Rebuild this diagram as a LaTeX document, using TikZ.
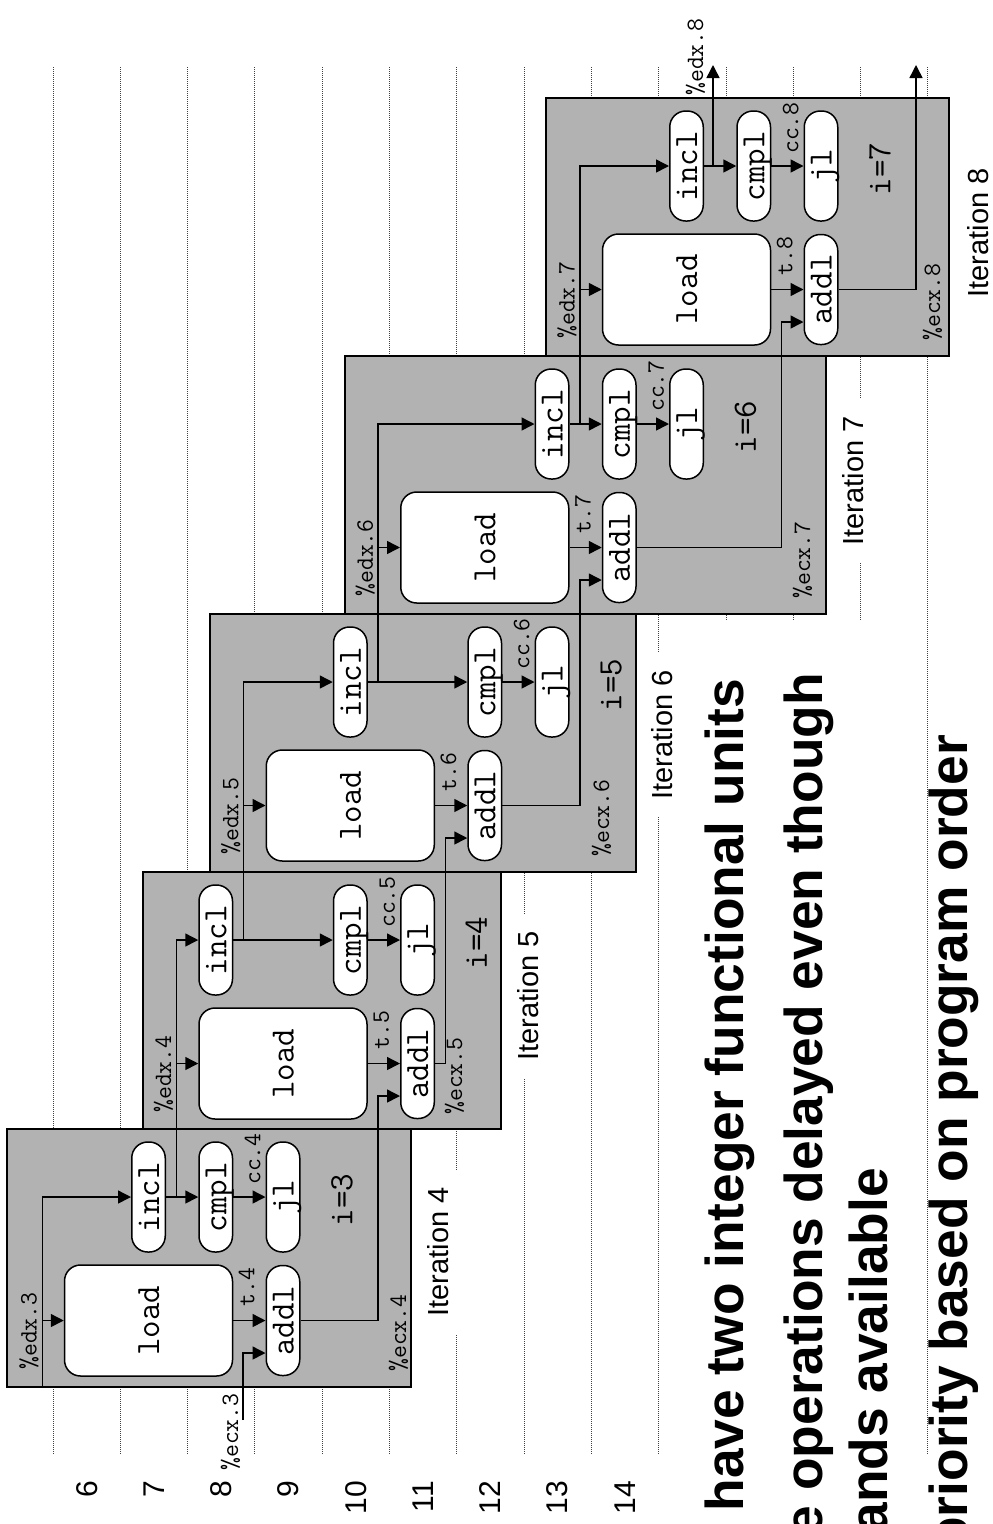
\documentclass[tikz,border=0pt]{standalone}
\usepackage{fontspec}
\setmainfont{Liberation Sans}
\usetikzlibrary{arrows.meta,calc}

\newcommand\opfont{\ttfamily\fontsize{34}{40}\selectfont}
\newcommand\regfont{\ttfamily\fontsize{25}{30}\selectfont}
\newcommand\cyclefont{\fontsize{30}{36}\selectfont}
\newcommand\iterfont{\fontsize{29}{35}\selectfont}
\newcommand\bulletfont{\bfseries\fontsize{53.3}{64}\selectfont}

\tikzset{
  gridline/.style={line width=1pt, black!75, dash pattern=on 1pt off 1pt},
  iterbox/.style={draw=black, line width=1.5pt, fill=black!30},
  opnode/.style={draw=black, line width=1.5pt, fill=white, rotate=90, inner sep=0pt,
                 font=\opfont, text height=21pt, text depth=0pt},
  pill/.style={opnode, minimum width=110pt, minimum height=33.5pt, rounded corners=16pt},
  loadbox/.style={opnode, minimum width=111pt, minimum height=168pt, rounded corners=16pt},
  flow/.style={line width=1.5pt, -{Triangle[length=13pt,width=13pt]}},
  reg/.style={rotate=90, inner sep=0pt, anchor=base, font=\regfont},
  ival/.style={rotate=90, inner sep=0pt, anchor=base, font=\opfont},
  iterlabel/.style={rotate=90, anchor=base, font=\iterfont, fill=white,
                    inner xsep=18pt, inner ysep=12pt},
  cyc/.style={rotate=90, inner sep=0pt, anchor=base east, font=\cyclefont},
  bullettext/.style={rotate=90, inner sep=0pt, anchor=base east, font=\bulletfont},
}

\begin{document}
\begin{tikzpicture}[x=1pt, y=-1pt]
\useasboundingbox (0,0) rectangle (993,1524);
\clip (0,0) rectangle (993,1524);

% clock-cycle grid
\foreach \k in {0,...,13}
  \draw[gridline] ({53+67.3*\k},67) -- ({53+67.3*\k},1455);

% backdrop of the bullet text
\fill[white] (680,620) rectangle (905,1524);

% iteration boxes
\draw[iterbox] (7,1129) rectangle (411,1387);
\draw[iterbox] (143,872) rectangle (501,1129);
\draw[iterbox] (210,614) rectangle (636,872);
\draw[iterbox] (345,356) rectangle (826,614);
\draw[iterbox] (546,98) rectangle (949,356);

% iteration captions
\node[iterlabel] (it4) at (448,1252) {Iteration 4};
\node[iterlabel] (it5) at (538,996) {Iteration 5};
\node[iterlabel] (it6) at (672,735) {Iteration 6};
\node[iterlabel] (it7) at (863,481) {Iteration 7};
\node[iterlabel] (it8) at (988,233) {Iteration 8};

% ---- operations, i=3
\node[loadbox] (load3) at (148.5,1320.5) {load};
\node[pill] (incl3) at (148.5,1197) {incl};
\node[pill] (cmpl3) at (215.75,1197) {cmpl};
\node[pill] (jl3)   at (283,1197) {jl};
\node[pill] (addl3) at (283,1320.5) {addl};
\node[ival] (i3) at (352.25,1200) {i=3};

% ---- operations, i=4
\node[loadbox] (load4) at (283,1063.5) {load};
\node[pill] (incl4) at (215.75,940) {incl};
\node[pill] (cmpl4) at (350.25,940) {cmpl};
\node[pill] (jl4)   at (417.5,940) {jl};
\node[pill] (addl4) at (417.5,1063.5) {addl};
\node[ival] (i4) at (486.75,943) {i=4};

% ---- operations, i=5
\node[loadbox] (load5) at (350.25,805.5) {load};
\node[pill] (incl5) at (350.25,682) {incl};
\node[pill] (cmpl5) at (484.75,682) {cmpl};
\node[pill] (jl5)   at (552,682) {jl};
\node[pill] (addl5) at (484.75,805.5) {addl};
\node[ival] (i5) at (621.25,685) {i=5};

% ---- operations, i=6
\node[loadbox] (load6) at (484.75,547.5) {load};
\node[pill] (incl6) at (552,424) {incl};
\node[pill] (cmpl6) at (619.25,424) {cmpl};
\node[pill] (jl6)   at (686.5,424) {jl};
\node[pill] (addl6) at (619.25,547.5) {addl};
\node[ival] (i6) at (755.75,427) {i=6};

% ---- operations, i=7
\node[loadbox] (load7) at (686.5,289.5) {load};
\node[pill] (incl7) at (686.5,166) {incl};
\node[pill] (cmpl7) at (753.75,166) {cmpl};
\node[pill] (jl7)   at (821,166) {jl};
\node[pill] (addl7) at (821,289.5) {addl};
\node[ival] (i7) at (890.25,169) {i=7};

% data flow inside each iteration
\foreach \k in {3,...,7} {
  \draw[flow] (incl\k.south) -- (cmpl\k.north);
  \draw[flow] (cmpl\k.south) -- (jl\k.north);
  \draw[flow] (load\k.south) -- (addl\k.north);
}

% %edx chain
\coordinate (edx3) at (42.5,1387);
\draw[flow] (edx3) |- (incl3.north);
\draw[flow] (edx3 |- load3.north) -- (load3.north);
\foreach \k/\p in {4/3,5/4,6/5,7/6} {
  \coordinate (edx\k) at ($(incl\p.south -| load\k.north)+(-22,0)$);
  \draw[flow] (edx\k) |- (incl\k.north);
  \draw[flow] (edx\k |- load\k.north) -- (load\k.north);
}
\coordinate (edx8) at (713,65);
\draw[flow] (incl7.south -| edx8) -- (edx8);

% %ecx chain
\coordinate (ecx3) at (243,1420);
\coordinate (in3) at ($(addl3.north)+(0,32.5)$);
\draw[flow] (ecx3) |- (in3);
\foreach \k/\p in {4/3,5/4,6/5,7/6} {
  \coordinate (in\k) at ($(addl\k.north)+(0,32.5)$);
  \draw[flow] (addl\p.south) -| ($(in\k)+(-22,0)$) -- (in\k);
}
\coordinate (ecx8) at (916,65);
\draw[flow] (addl7.south) -| (ecx8);

% register and value labels
\node[reg] (recx3) at (238,1432) {\%ecx.3};
\node[reg] (redx8) at (703,57) {\%edx.8};

\node[reg] (redx3) at (36.5,1331) {\%edx.3};
\node[reg] (redx4) at (171,1074) {\%edx.4};
\node[reg] (redx5) at (238.25,816) {\%edx.5};
\node[reg] (redx6) at (372.75,558) {\%edx.6};
\node[reg] (redx7) at (574.5,300) {\%edx.7};

\node[reg] (rt4) at (254.25,1287) {t.4};
\node[reg] (rt5) at (388.75,1030) {t.5};
\node[reg] (rt6) at (456,772) {t.6};
\node[reg] (rt7) at (590.5,514) {t.7};
\node[reg] (rt8) at (792.25,256) {t.8};

\node[reg] (rcc4) at (260.25,1159) {cc.4};
\node[reg] (rcc5) at (394.75,902) {cc.5};
\node[reg] (rcc6) at (529.25,644) {cc.6};
\node[reg] (rcc7) at (663.75,386) {cc.7};
\node[reg] (rcc8) at (798.25,128) {cc.8};

\node[reg] (recx4) at (406,1333) {\%ecx.4};
\node[reg] (recx5) at (462,1076) {\%ecx.5};
\node[reg] (recx6) at (609,818) {\%ecx.6};
\node[reg] (recx7) at (810,560) {\%ecx.7};
\node[reg] (recx8) at (940,302) {\%ecx.8};

% cycle numbers
\foreach \n [count=\k from 0] in {6,...,14}
  \node[cyc] (cyc\n) at ({97+67.25*\k},1481) {\n};

% bullet text
\node[bullettext] (line1) at (743,679) {have two integer functional units};
\node[bullettext] (line2) at (822,673) {e operations delayed even though};
\node[bullettext] (line3) at (887,1168) {ands available};
\node[bullettext] (line4) at (967,735) {priority based on program order};
\end{tikzpicture}
\end{document}
